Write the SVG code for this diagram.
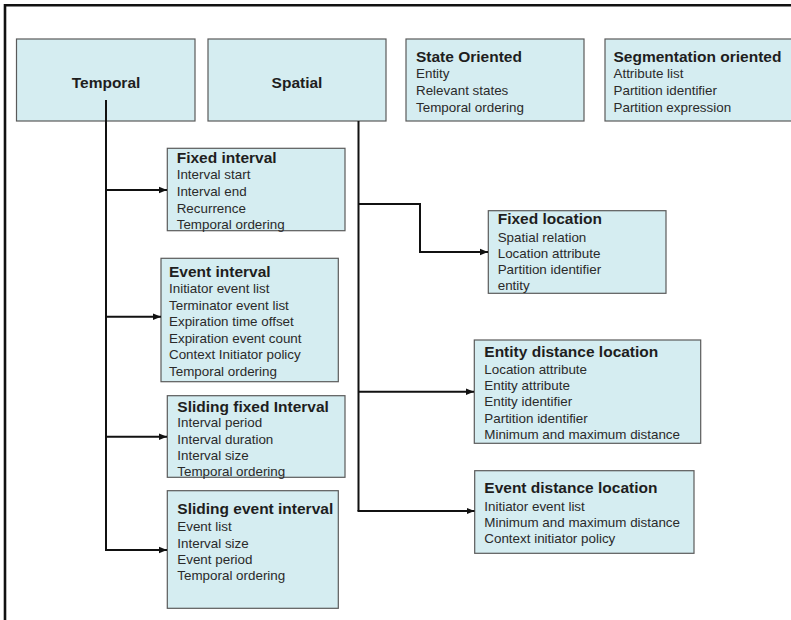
<svg xmlns="http://www.w3.org/2000/svg" width="791" height="620" viewBox="0 0 791 620">
<style>
.box{fill:#d5edf1;stroke:#5a5a5a;stroke-width:1.2}
.h{font-family:"Liberation Sans",Arial,sans-serif;font-weight:bold;font-size:15.5px;fill:#1e1e1e}
.t{font-family:"Liberation Sans",Arial,sans-serif;font-size:13.4px;fill:#2a2a2a}
.c{fill:none;stroke:#111;stroke-width:2}
</style>
<defs>
<marker id="ah" viewBox="0 0 8 8" refX="8" refY="4" markerWidth="8" markerHeight="8" markerUnits="userSpaceOnUse" orient="auto">
<path d="M0,0.8 L8,4 L0,7.2 Z" fill="#111"/>
</marker>
</defs>
<rect width="791" height="620" fill="#fff"/>
<path d="M5,620 V5.3 H791" fill="none" stroke="#111" stroke-width="2.6"/>

<g id="temporal">
<rect class="box" x="16.5" y="39" width="178.5" height="82"/>
<text class="h" x="106" y="87.5" text-anchor="middle">Temporal</text>
</g>
<g id="spatial">
<rect class="box" x="208" y="39" width="178" height="82"/>
<text class="h" x="297" y="87.5" text-anchor="middle">Spatial</text>
</g>
<g id="state-oriented">
<rect class="box" x="406" y="39" width="178" height="82"/>
<text class="h" x="416" y="62">State Oriented</text>
<text class="t" x="416" y="77.5">Entity</text>
<text class="t" x="416" y="95">Relevant states</text>
<text class="t" x="416" y="112">Temporal ordering</text>
</g>
<g id="segmentation-oriented">
<rect class="box" x="605" y="39" width="200" height="82"/>
<text class="h" x="613.5" y="62">Segmentation oriented</text>
<text class="t" x="613.5" y="77.5">Attribute list</text>
<text class="t" x="613.5" y="95">Partition identifier</text>
<text class="t" x="613.5" y="112">Partition expression</text>
</g>

<g id="fixed-interval">
<rect class="box" x="167.3" y="148.3" width="177.7" height="82.4"/>
<text class="h" x="176.7" y="162.7">Fixed interval</text>
<text class="t" x="176.7" y="179">Interval start</text>
<text class="t" x="176.7" y="196">Interval end</text>
<text class="t" x="176.7" y="212.7">Recurrence</text>
<text class="t" x="176.7" y="228.7">Temporal ordering</text>
</g>
<g id="event-interval">
<rect class="box" x="161" y="258.3" width="177.3" height="123.4"/>
<text class="h" x="169" y="276.7">Event interval</text>
<text class="t" x="169" y="293.3">Initiator event list</text>
<text class="t" x="169" y="310">Terminator event list</text>
<text class="t" x="169" y="326.3">Expiration time offset</text>
<text class="t" x="169" y="342.5">Expiration event count</text>
<text class="t" x="169" y="359">Context Initiator policy</text>
<text class="t" x="169" y="375.7">Temporal ordering</text>
</g>
<g id="sliding-fixed-interval">
<rect class="box" x="167.3" y="395.7" width="177.7" height="81.6"/>
<text class="h" x="177.3" y="411.7">Sliding fixed Interval</text>
<text class="t" x="177.3" y="427.3">Interval period</text>
<text class="t" x="177.3" y="443.5">Interval duration</text>
<text class="t" x="177.3" y="460">Interval size</text>
<text class="t" x="177.3" y="476">Temporal ordering</text>
</g>
<g id="sliding-event-interval">
<rect class="box" x="167.3" y="490.7" width="171" height="117.6"/>
<text class="h" x="177.3" y="514.3">Sliding event interval</text>
<text class="t" x="177.3" y="530.7">Event list</text>
<text class="t" x="177.3" y="547.5">Interval size</text>
<text class="t" x="177.3" y="563.5">Event period</text>
<text class="t" x="177.3" y="580">Temporal ordering</text>
</g>

<g id="fixed-location">
<rect class="box" x="488.3" y="210.7" width="177.7" height="82.6"/>
<text class="h" x="497.7" y="223.7">Fixed location</text>
<text class="t" x="497.7" y="241.7">Spatial relation</text>
<text class="t" x="497.7" y="257.5">Location attribute</text>
<text class="t" x="497.7" y="274.3">Partition identifier</text>
<text class="t" x="497.7" y="290">entity</text>
</g>
<g id="entity-distance-location">
<rect class="box" x="474.3" y="340" width="226.4" height="103.3"/>
<text class="h" x="484.3" y="356.7">Entity distance location</text>
<text class="t" x="484.3" y="374">Location attribute</text>
<text class="t" x="484.3" y="390">Entity attribute</text>
<text class="t" x="484.3" y="406">Entity identifier</text>
<text class="t" x="484.3" y="422.7">Partition identifier</text>
<text class="t" x="484.3" y="439">Minimum and maximum distance</text>
</g>
<g id="event-distance-location">
<rect class="box" x="474.7" y="470.7" width="219.3" height="82.6"/>
<text class="h" x="484.3" y="492.7">Event distance location</text>
<text class="t" x="484.3" y="510.7">Initiator event list</text>
<text class="t" x="484.3" y="526.7">Minimum and maximum distance</text>
<text class="t" x="484.3" y="542.5">Context initiator policy</text>
</g>

<g id="connectors">
<path class="c" d="M106,100 V550"/>
<path class="c" d="M106,190 H167" marker-end="url(#ah)"/>
<path class="c" d="M106,316.7 H161" marker-end="url(#ah)"/>
<path class="c" d="M106,436.7 H167" marker-end="url(#ah)"/>
<path class="c" d="M105,550 H167" marker-end="url(#ah)"/>
<path class="c" d="M358.5,121 V511"/>
<path class="c" d="M358.5,204 H420 V252 H488" marker-end="url(#ah)"/>
<path class="c" d="M358.5,391.7 H474" marker-end="url(#ah)"/>
<path class="c" d="M357.5,511 H474.5" marker-end="url(#ah)"/>
</g>
</svg>
